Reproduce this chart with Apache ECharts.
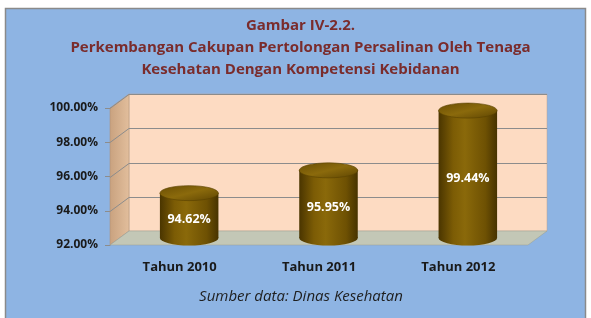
<!DOCTYPE html>
<html>
<head>
<meta charset="utf-8">
<script src="https://cdn.jsdelivr.net/npm/echarts@6/dist/echarts.min.js"></script>
<style>
  html, body { margin: 0; padding: 0; background: #fff; }
  #chart { width: 591px; height: 318px; }
</style>
</head>
<body>
<div id="chart"></div>
<script>
var categories = ['Tahun 2010', 'Tahun 2011', 'Tahun 2012'];
var cakupan = [94.62, 95.95, 99.44];
var yMin = 92, yMax = 100, yStep = 2;

var titleText = 'Gambar IV-2.2.\nPerkembangan Cakupan Pertolongan Persalinan Oleh Tenaga\nKesehatan Dengan Kompetensi Kebidanan';
var sourceText = 'Sumber data: Dinas Kesehatan';

// depth of the fake 3d box
var dx = 19, dy = -14;

var myChart = echarts.init(document.getElementById('chart'));

function renderWalls(params, api) {
    var cs = params.coordSys;
    var x0 = cs.x, x1 = cs.x + cs.width;
    var yb = cs.y + cs.height;
    var yt = cs.y;
    var kids = [];
    // back wall
    kids.push({
        type: 'rect',
        shape: { x: x0 + dx, y: yt + dy, width: cs.width, height: cs.height },
        style: { fill: '#FDDBC2', stroke: '#B9A08C', lineWidth: 0.5 }
    });
    // left side wall
    kids.push({
        type: 'polygon',
        shape: { points: [[x0, yt], [x0 + dx, yt + dy], [x0 + dx, yb + dy], [x0, yb]] },
        style: {
            fill: new echarts.graphic.LinearGradient(0, 0, 1, 0, [
                { offset: 0, color: '#C9A27F' },
                { offset: 1, color: '#E2BE9C' }
            ]),
            stroke: '#A88C74', lineWidth: 0.5
        }
    });
    // floor
    kids.push({
        type: 'polygon',
        shape: { points: [[x0, yb], [x0 + dx, yb + dy], [x1 + dx, yb + dy], [x1, yb]] },
        style: { fill: '#C3C7B6', stroke: '#9A9E90', lineWidth: 0.5 }
    });
    // grid lines on walls
    for (var v = yMin + yStep; v <= yMax; v += yStep) {
        var p = api.coord([0, v]);
        var y = Math.round(p[1]) + 0.5;
        kids.push({
            type: 'polyline',
            shape: { points: [[x0, y], [x0 + dx, y + dy], [x1 + dx, y + dy]] },
            style: { stroke: '#8C8C8C', lineWidth: 1, fill: null }
        });
    }
    return { type: 'group', children: kids };
}

function renderCylinder(params, api) {
    var idx = api.value(0);
    var val = api.value(1);
    var top = api.coord([idx, val]);
    var base = api.coord([idx, yMin]);
    var w = api.size([1, 0])[0] * 0.42;
    var rx = w / 2, ry = 7.5;
    var cx = top[0] + dx / 2;
    var ty = top[1] + dy / 2;
    var by = base[1] + dy / 2;

    var bodyFill = new echarts.graphic.LinearGradient(0, 0, 1, 0, [
        { offset: 0, color: '#4A3500' },
        { offset: 0.25, color: '#7C5C05' },
        { offset: 0.45, color: '#8A690A' },
        { offset: 0.8, color: '#6E5103' },
        { offset: 1, color: '#473300' }
    ]);
    var topFill = new echarts.graphic.LinearGradient(0, 0, 1, 1, [
        { offset: 0, color: '#6A4E03' },
        { offset: 0.5, color: '#8B6A0C' },
        { offset: 1, color: '#5E4502' }
    ]);
    return {
        type: 'group',
        children: [
            {
                type: 'circle',
                shape: { cx: 0, cy: 0, r: rx },
                x: cx, y: by, scaleY: ry / rx,
                style: { fill: bodyFill }
            },
            {
                type: 'rect',
                shape: { x: cx - rx, y: ty, width: w, height: by - ty },
                style: { fill: bodyFill }
            },
            {
                type: 'circle',
                shape: { cx: 0, cy: 0, r: rx },
                x: cx, y: ty, scaleY: ry / rx,
                style: { fill: topFill, stroke: '#5A4200', lineWidth: 1 }
            },
            {
                type: 'text',
                x: cx, y: (ty + ry + by) / 2,
                style: {
                    text: val.toFixed(2) + '%',
                    fill: '#FFFFFF',
                    font: 'bold 12.5px "Open Sans"',
                    align: 'center',
                    verticalAlign: 'middle'
                },
                z2: 10
            }
        ]
    };
}

var cylData = cakupan.map(function (v, i) { return [i, v]; });

var option = {
    backgroundColor: '#FFFFFF',
    animation: false,
    graphic: [{
        type: 'rect',
        shape: { x: 5.5, y: 8.5, width: 580, height: 320 },
        style: { fill: '#8EB4E3', stroke: '#8A8A8A', lineWidth: 1.5 },
        z: -10
    }],
    title: [{
        text: titleText,
        left: '50%',
        top: 10,
        textAlign: 'center',
        textStyle: {
            color: '#7A2C2C',
            fontFamily: 'Open Sans',
            fontWeight: 'bold',
            fontSize: 15,
            lineHeight: 22
        }
    }, {
        text: sourceText,
        left: 296,
        top: 284,
        textAlign: 'center',
        textStyle: {
            color: '#1E1E1E',
            fontFamily: 'Open Sans',
            fontStyle: 'italic',
            fontWeight: 'normal',
            fontSize: 15
        }
    }],
    grid: {
        left: 110,
        right: 63,
        top: 108,
        bottom: 73
    },
    xAxis: {
        type: 'category',
        data: categories,
        axisLine: { show: false },
        axisTick: { show: false },
        axisLabel: {
            margin: 16,
            color: '#1A1A1A',
            fontFamily: 'Open Sans',
            fontWeight: 'bold',
            fontSize: 13
        }
    },
    yAxis: {
        type: 'value',
        min: yMin,
        max: yMax,
        interval: yStep,
        axisLine: { show: true, lineStyle: { color: '#8C8C8C' } },
        axisTick: { show: true, length: 5, lineStyle: { color: '#8C8C8C' } },
        splitLine: { show: false },
        axisLabel: {
            margin: 12,
            color: '#1A1A1A',
            fontFamily: 'Open Sans',
            fontWeight: 'bold',
            fontSize: 12,
            formatter: function (v) { return v.toFixed(2) + '%'; }
        }
    },
    series: [{
        type: 'custom',
        renderItem: renderWalls,
        data: [[0, yMin]],
        silent: true,
        z: 1
    }, {
        type: 'custom',
        name: 'Cakupan',
        renderItem: renderCylinder,
        data: cylData,
        encode: { x: 0, y: 1 },
        z: 3
    }]
};

myChart.setOption(option);
</script>
</body>
</html>
